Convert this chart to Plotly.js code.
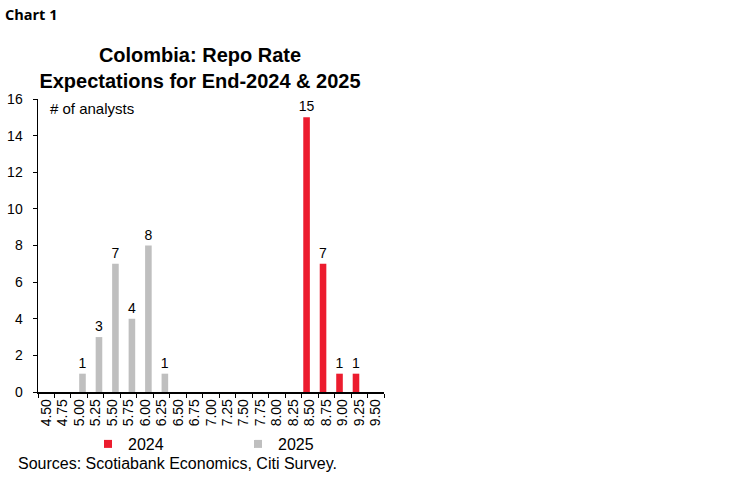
<!DOCTYPE html>
<html>
<head>
<meta charset="utf-8">
<script src="https://cdn.plot.ly/plotly-3.0.1.min.js"></script>
<style>html,body{margin:0;padding:0;background:#fff;}#chart{width:748px;height:483px;}</style>
</head>
<body>
<div id="chart"></div>
<script>
const categories = ["4.50","4.75","5.00","5.25","5.50","5.75","6.00","6.25","6.50","6.75","7.00","7.25","7.50","7.75","8.00","8.25","8.50","8.75","9.00","9.25","9.50"];
const values2024 = [null,null,null,null,null,null,null,null,null,null,null,null,null,null,null,null,15,7,1,1,null];
const values2025 = [null,null,1,3,7,4,8,1,null,null,null,null,null,null,null,null,null,null,null,null,null];
const seriesNames = ["2024","2025"];
const colors = {"2024":"#EC1C2E","2025":"#BFBFBF"};

const FONT = "Liberation Sans, Arial, sans-serif";
const lbl = v => v.map(x => (x === null || x === undefined) ? "" : String(x));

const traces = [
  {type:"bar", name:seriesNames[0], x:categories, y:values2024, marker:{color:colors["2024"]},
   text:lbl(values2024), textposition:"outside", constraintext:"none", cliponaxis:false, showlegend:false,
   outsidetextfont:{family:FONT,size:14,color:"#000"}, textfont:{family:FONT,size:14,color:"#000"}, hoverinfo:"x+y"},
  {type:"bar", name:seriesNames[1], x:categories, y:values2025, marker:{color:colors["2025"]},
   text:lbl(values2025), textposition:"outside", constraintext:"none", cliponaxis:false, showlegend:false,
   outsidetextfont:{family:FONT,size:14,color:"#000"}, textfont:{family:FONT,size:14,color:"#000"}, hoverinfo:"x+y"},
  {type:"scatter", mode:"markers", name:seriesNames[0], x:[null], y:[null],
   marker:{symbol:"square", size:8, color:colors["2024"]}, showlegend:true, hoverinfo:"skip"},
  {type:"scatter", mode:"markers", name:seriesNames[1], x:[null], y:[null],
   marker:{symbol:"square", size:8, color:colors["2025"]}, showlegend:true, hoverinfo:"skip"}
];

const layout = {
  width:748, height:483,
  margin:{l:38, r:364, t:99, b:91, autoexpand:false},
  paper_bgcolor:"#fff", plot_bgcolor:"#fff",
  font:{family:FONT, size:14, color:"#000"},
  barmode:"group", bargap:0.2, bargroupgap:0,
  title:{text:"<b>Colombia: Repo Rate<br>Expectations for End-2024 & 2025</b>",
         font:{family:FONT, size:20, color:"#000"},
         xref:"container", x:200/748, xanchor:"center",
         yref:"container", y:1-62/483, yanchor:"top"},
  xaxis:{type:"category", categoryorder:"array", categoryarray:categories,
         tickmode:"linear", tick0:0, dtick:1,
         showline:true, linecolor:"#000", linewidth:1.5,
         ticks:"outside", tickson:"boundaries", ticklen:4, tickcolor:"#000", tickwidth:1,
         tickangle:-90, tickfont:{family:FONT,size:14,color:"#000"},
         showgrid:false, zeroline:false, fixedrange:true},
  yaxis:{range:[0,16], dtick:2, tick0:0, showline:true, linecolor:"#000", linewidth:1.5,
         ticks:"outside", ticklen:4, tickcolor:"#000", tickwidth:1, ticklabelstandoff:7,
         tickfont:{family:FONT,size:14,color:"#000"},
         showgrid:false, zeroline:false, fixedrange:true},
  showlegend:true,
  legend:{orientation:"h", x:(388-38)/346, xanchor:"right", y:(392-427)/293, yanchor:"top",
          font:{family:FONT,size:16,color:"#000"}, entrywidth:105, entrywidthmode:"pixels",
          bgcolor:"rgba(0,0,0,0)", borderwidth:0, itemclick:false, itemdoubleclick:false},
  annotations:[
    {text:"<b>Chart 1</b>", xref:"paper", yref:"paper", x:(3-38)/346, y:(392-15)/293,
     xanchor:"left", yanchor:"middle", showarrow:false,
     font:{family:"Open Sans, sans-serif", size:14.5, color:"#000"}},
    {text:"# of analysts", xref:"paper", yref:"paper", x:(48-38)/346, y:(392-109)/293,
     xanchor:"left", yanchor:"middle", showarrow:false,
     font:{family:FONT, size:15, color:"#000"}},
    {text:"Sources: Scotiabank Economics, Citi Survey.", xref:"paper", yref:"paper",
     x:(16-38)/346, y:(392-463)/293, xanchor:"left", yanchor:"middle", showarrow:false,
     font:{family:FONT, size:16, color:"#000"}}
  ]
};

Plotly.newPlot("chart", traces, layout, {displayModeBar:false, staticPlot:true});
</script>
</body>
</html>
